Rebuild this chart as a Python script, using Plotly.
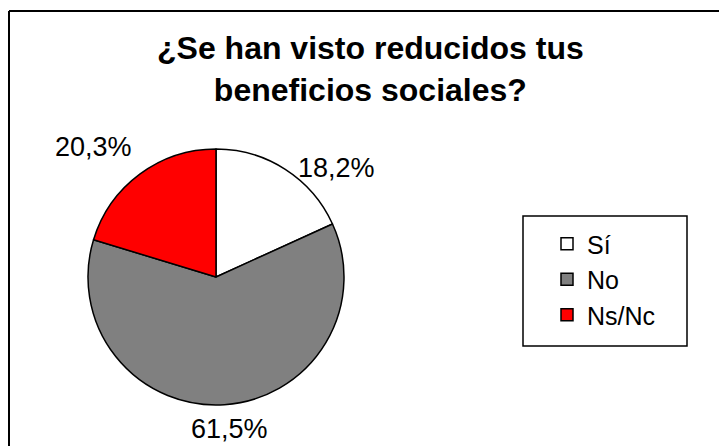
import math
import plotly.graph_objects as go

# ---- data ----
categories = ["Sí", "No", "Ns/Nc"]
values = [18.2, 61.5, 20.3]
colors = ["#FFFFFF", "#808080", "#FF0000"]
title_lines = ["¿Se han visto reducidos tus", "beneficios sociales?"]

# ---- layout / style ----
# The page body has an 8px margin, so the figure is drawn from (8, 8) of the
# window; positions below are given in window pixels and shifted.
OFF = 8
W, H = 727 - OFF, 446 - OFF
FONT = "Arial, Liberation Sans, sans-serif"


def px(wx):
    return (wx - OFF) / W


def py(wy):
    return 1 - (wy - OFF) / H


cx, cy, r = 216, 277, 128          # pie centre / radius (window px)
label_gap = 17                     # distance of labels outside the rim
label_nudge = [(2, 30), (4, -10), (4, 3)]   # per-label fine placement (px)

fig = go.Figure(go.Pie(
    labels=categories, values=values, sort=False, direction="clockwise",
    rotation=0, textposition="none", hoverinfo="label+percent",
    marker=dict(colors=colors, line=dict(color="#000000", width=1.5)),
    domain=dict(x=[px(cx - r), px(cx + r)], y=[py(cy + r), py(cy - r)]),
    showlegend=True,
))

# outside percentage labels, placed from each slice's mid angle
total = sum(values)
annotations = []
acc = 0.0
for v, (dx, dy) in zip(values, label_nudge):
    mid = (acc + v / 2) / total * 2 * math.pi
    acc += v
    ux, uy = math.sin(mid), -math.cos(mid)
    lx = cx + (r + label_gap) * ux + dx
    ly = cy + (r + label_gap) * uy + dy
    xa = "left" if ux > 0.2 else ("right" if ux < -0.2 else "center")
    ya = "bottom" if uy < -0.2 else ("top" if uy > 0.2 else "middle")
    txt = f"{v / total * 100:.1f}".replace(".", ",") + "%"
    annotations.append(dict(
        x=px(lx), y=py(ly), xref="paper", yref="paper", text=txt,
        showarrow=False, xanchor=xa, yanchor=ya,
        font=dict(family=FONT, size=27, color="#000000")))

# title
annotations.append(dict(
    x=px(370), y=py(28), xref="paper", yref="paper",
    text="<b>" + "<br>".join(title_lines) + "</b>", showarrow=False,
    xanchor="center", yanchor="top", align="center",
    font=dict(family=FONT, size=32, color="#000000")))

shapes = [
    # outer chart border (top & left visible)
    dict(type="line", xref="paper", yref="paper", x0=px(9), x1=1.05,
         y0=py(11), y1=py(11), line=dict(color="#000000", width=2)),
    dict(type="line", xref="paper", yref="paper", x0=px(9), x1=px(9),
         y0=py(11), y1=-0.05, line=dict(color="#000000", width=2)),
    # legend box
    dict(type="rect", xref="paper", yref="paper", x0=px(523), x1=px(687),
         y0=py(346), y1=py(216), line=dict(color="#000000", width=1.5),
         fillcolor="rgba(0,0,0,0)"),
]

fig.update_layout(
    width=W, height=H, margin=dict(l=0, r=0, t=0, b=0),
    paper_bgcolor="#FFFFFF", plot_bgcolor="#FFFFFF",
    annotations=annotations, shapes=shapes,
    legend=dict(x=px(547), y=py(221), xanchor="left", yanchor="top",
                bgcolor="rgba(0,0,0,0)", borderwidth=0,
                font=dict(family=FONT, size=25, color="#000000")),
)

fig.write_html("out.html")
